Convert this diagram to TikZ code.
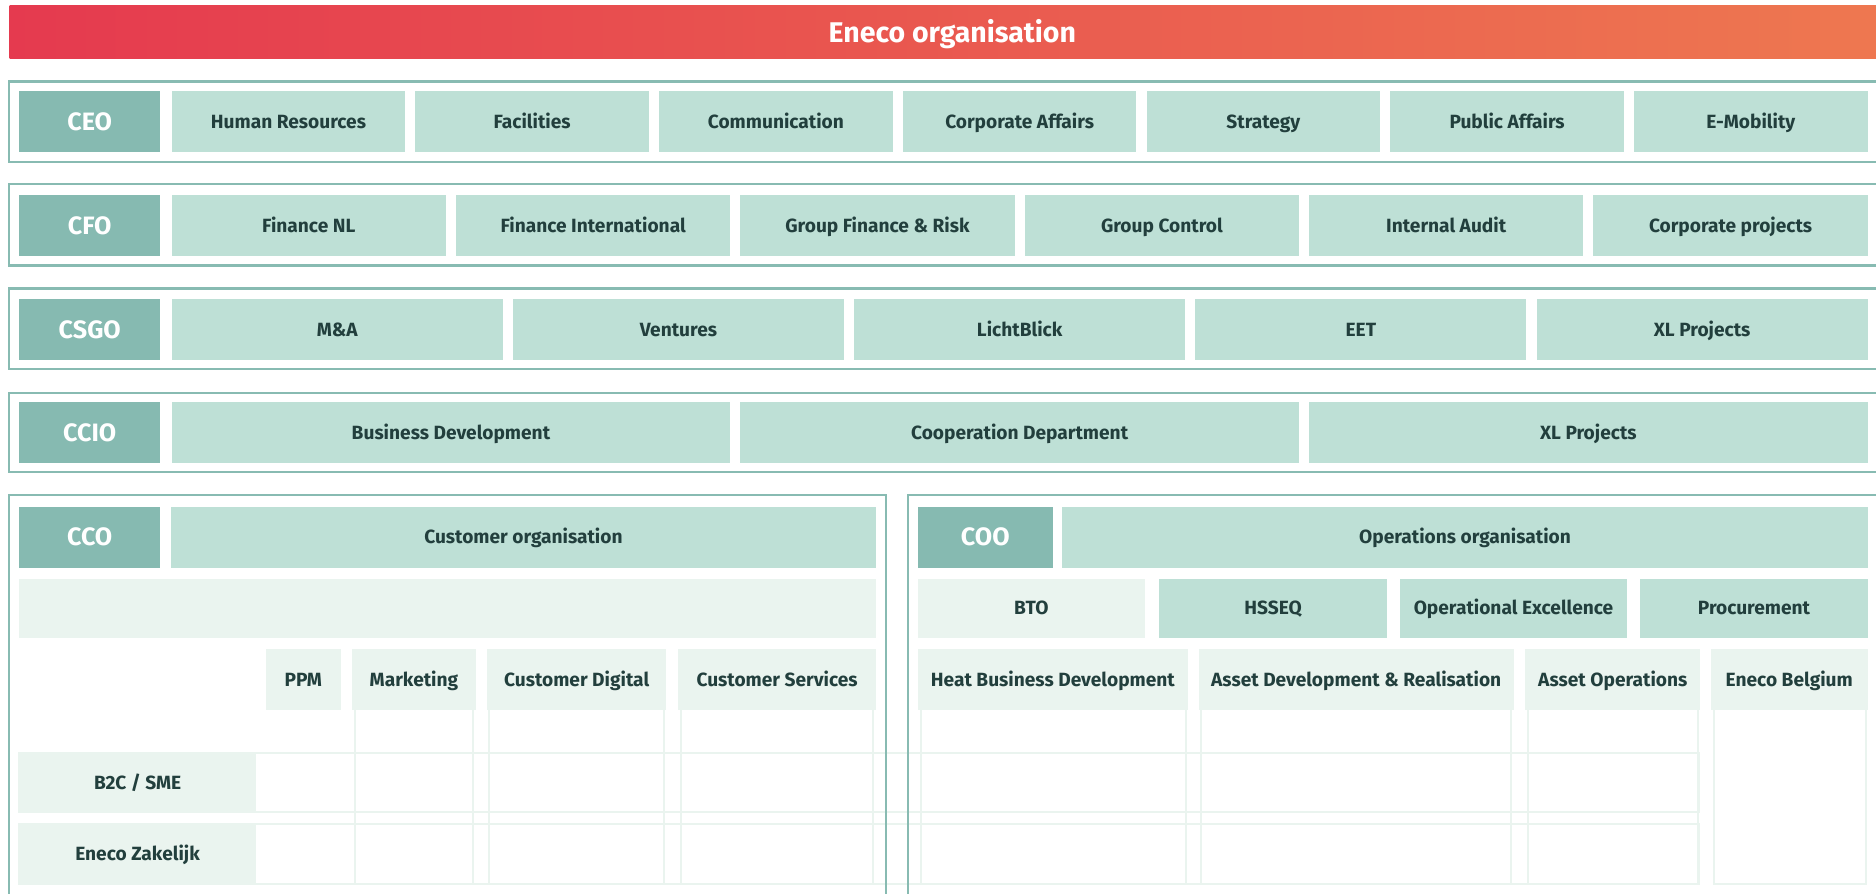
\documentclass[tikz,border=0pt]{standalone}
\usepackage{fontspec}
\setmainfont{Fira Sans}
\definecolor{enecored}{HTML}{E53A4F}
\definecolor{enecoorange}{HTML}{EE7850}
\definecolor{framegreen}{HTML}{88BBB2}
\definecolor{rolegreen}{HTML}{86BAB1}
\definecolor{unitgreen}{HTML}{BEE0D6}
\definecolor{palegreen}{HTML}{EAF4EF}
\definecolor{darktext}{HTML}{223F3D}
\tikzset{
  box/.style={inner sep=0pt,minimum height=51pt,text depth=0pt},
  role/.style={box,fill=rolegreen,text=white,font=\fontsize{21}{22}\selectfont\bfseries,text height=14.5pt,minimum width=118pt},
  unit/.style={box,fill=unitgreen,text=darktext,font=\fontsize{16}{18}\selectfont\bfseries,text height=11pt},
  paleunit/.style={unit,fill=palegreen},
  layer/.style={draw=framegreen,line width=2pt},
  cell/.style={draw=palegreen,line width=1.6pt},
}
\begin{document}
\begin{tikzpicture}[x=1pt,y=-1pt]
\useasboundingbox (0,0) rectangle (1568,747);
\clip (0,0) rectangle (1568,747);
% title bar
\node[box,minimum width=1576pt,minimum height=44pt,left color=enecored,right color=enecoorange,text=white,font=\fontsize{23.8}{25}\selectfont\bfseries,text height=16.4pt] (title) at (796,27) {Eneco organisation};
% layers
\draw[layer] (7.6,68) rectangle (1590,135.5);
\draw[layer] (7.6,154) rectangle (1590,222);
\draw[layer] (7.6,241) rectangle (1590,308.5);
\draw[layer] (7.6,328.5) rectangle (1590,394.5);
% grid cells
\foreach \x/\xx in {297/395,409/555,569/730,770/991,1004/1263,1277/1419,1432.5/1559.5}
  \draw[cell] (\x,593) rectangle (\xx,738.5);
\draw[cell] (16,629) rectangle (1420,679);
\draw[cell] (16,689) rectangle (1420,738.5);
\draw[layer] (7.6,760) |- (740.5,413.5) -- (740.5,760);
\draw[layer] (759,760) |- (1590,413.5);
% CEO
\node[role] (ceo) at (75,101.5) {CEO};
\foreach \id/\t [count=\i from 0] in {hr/Human Resources,fac/Facilities,comm/Communication,corp/Corporate Affairs,strat/Strategy,pubaff/Public Affairs,emob/E-Mobility}
  \node[unit,minimum width=195.2pt] (\id) at ({241.1+\i*203.71},101.5) {\t};
% CFO
\node[role] (cfo) at (75,188.5) {CFO};
\foreach \id/\t [count=\i from 0] in {finnl/Finance NL,finint/Finance International,gfr/Group Finance \& Risk,gctrl/Group Control,audit/Internal Audit,cproj/Corporate projects}
  \node[unit,minimum width=229.2pt] (\id) at ({258.1+\i*237.67},188.5) {\t};
% CSGO
\node[role] (csgo) at (75,275.5) {CSGO};
\foreach \id/\t [count=\i from 0] in {ma/M\&A,vent/Ventures,licht/LichtBlick,eet/EET,xlsg/XL Projects}
  \node[unit,minimum width=276.7pt] (\id) at ({281.85+\i*285.2},275.5) {\t};
% CCIO
\node[role] (ccio) at (75,361.5) {CCIO};
\foreach \id/\t [count=\i from 0] in {busdev/Business Development,coop/Cooperation Department,xlci/XL Projects}
  \node[unit,minimum width=466.8pt] (\id) at ({376.9+\i*475.33},361.5) {\t};
% CCO
\node[role] (cco) at (75,449) {CCO};
\node[unit,minimum width=589pt] (custorg) at (437.5,449) {Customer organisation};
\node[paleunit,minimum width=716pt,minimum height=49pt] (ccoband) at (374,508.5) {};
\node[paleunit,minimum width=63pt] (ppm) at (253.5,568) {PPM};
\node[paleunit,minimum width=104pt] (mark) at (346,568) {Marketing};
\node[paleunit,minimum width=150pt] (cdig) at (482,568) {Customer Digital};
\node[paleunit,minimum width=165pt] (cserv) at (649.5,568) {Customer Services};
\node[paleunit,minimum width=198pt,minimum height=50pt] (b2c) at (115,654) {B2C / SME};
\node[paleunit,minimum width=198pt,minimum height=50pt] (zak) at (115,714) {Eneco Zakelijk};
% COO
\node[role,minimum width=113pt] (coo) at (823.5,449) {COO};
\node[unit,minimum width=673pt] (opsorg) at (1224.5,449) {Operations organisation};
\node[paleunit,minimum width=190pt,minimum height=49pt] (bto) at (862,508.5) {BTO};
\node[unit,minimum width=190pt,minimum height=49pt] (hsseq) at (1064,508.5) {HSSEQ};
\node[unit,minimum width=190pt,minimum height=49pt] (opex) at (1265,508.5) {Operational Excellence};
\node[unit,minimum width=190pt,minimum height=49pt] (proc) at (1466,508.5) {Procurement};
\node[paleunit,minimum width=226pt] (heat) at (880,568) {Heat Business Development};
\node[paleunit,minimum width=263pt] (adr) at (1133.5,568) {Asset Development \& Realisation};
\node[paleunit,minimum width=146pt] (aops) at (1348,568) {Asset Operations};
\node[paleunit,minimum width=131pt] (belg) at (1495.5,568) {Eneco Belgium};
\end{tikzpicture}
\end{document}
